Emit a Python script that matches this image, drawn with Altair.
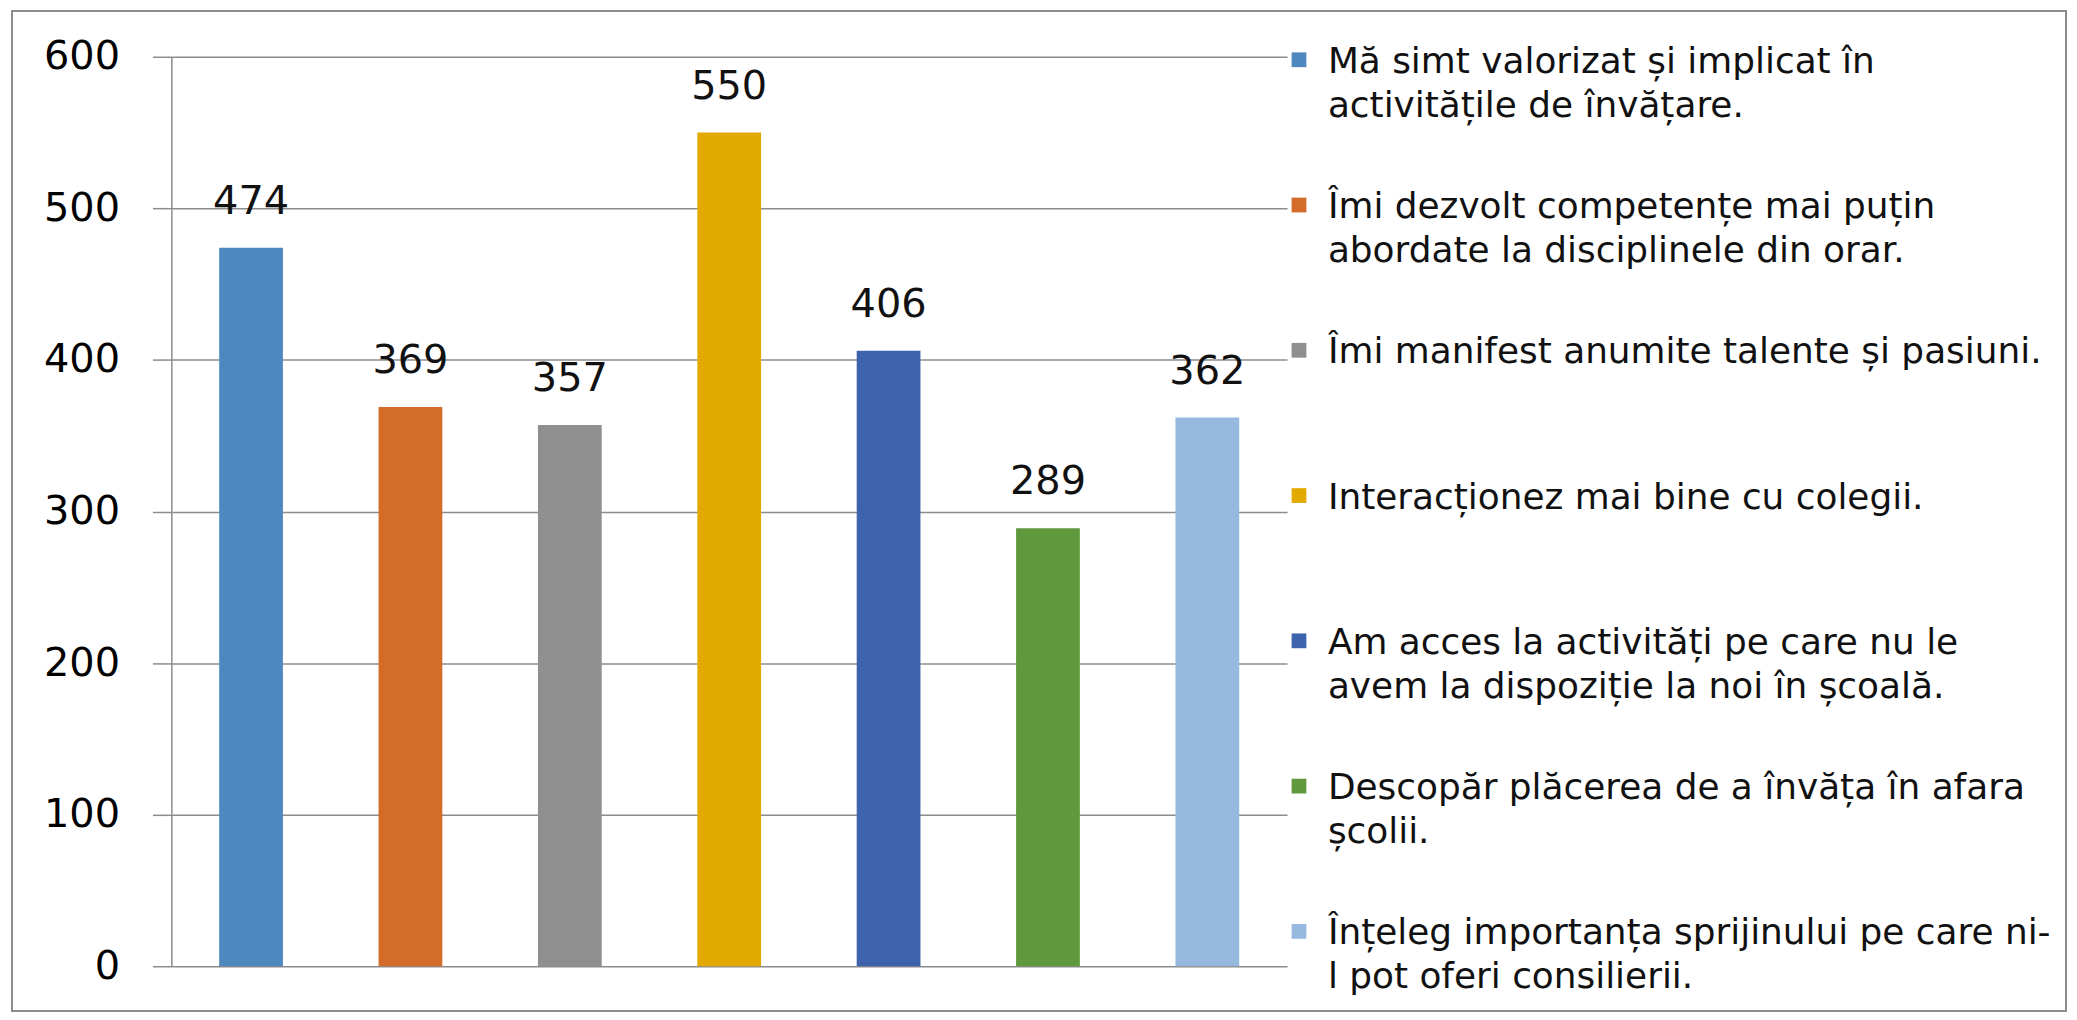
import altair as alt
import pandas as pd

categories = [
    "Mă simt valorizat și implicat în\nactivitățile de învățare.",
    "Îmi dezvolt competențe mai puțin\nabordate la disciplinele din orar.",
    "Îmi manifest anumite talente și pasiuni.",
    "Interacționez mai bine cu colegii.",
    "Am acces la activități pe care nu le\navem la dispoziție la noi în școală.",
    "Descopăr plăcerea de a învăța în afara\nșcolii.",
    "Înțeleg importanța sprijinului pe care ni-\nl pot oferi consilierii.",
]
values = [474, 369, 357, 550, 406, 289, 362]
colors = ["#4F88BE", "#D36C28", "#8F8F8F", "#E2A900", "#3D63AD", "#60993D", "#97B8DF"]
y_ticks = [0, 100, 200, 300, 400, 500, 600]

df = pd.DataFrame({"cat": categories, "val": values})
FONT = "DejaVu Sans"

color_scale = alt.Scale(domain=categories, range=colors)
no_view = alt.ViewBackground(strokeWidth=0, stroke="transparent")

x_enc = alt.X("cat:N", sort=categories, axis=None,
              scale=alt.Scale(paddingInner=0.6, paddingOuter=0.3))
y_enc = alt.Y("val:Q", scale=alt.Scale(domain=[0, 600], nice=False),
              axis=alt.Axis(values=y_ticks, title=None, grid=True, gridColor="#8C8C8C",
                            gridWidth=1.5, domainColor="#8C8C8C", domainWidth=1.5,
                            tickColor="#8C8C8C", tickSize=19, tickWidth=1.5,
                            labelFont=FONT, labelFontSize=40, labelColor="#000000",
                            labelPadding=33))

bars = alt.Chart(df).mark_bar().encode(
    x=x_enc, y=y_enc,
    color=alt.Color("cat:N", scale=color_scale, legend=None),
)
labels = alt.Chart(df).mark_text(font=FONT, fontSize=40, color="#111111",
                                 baseline="alphabetic", dy=-34).encode(
    x=alt.X("cat:N", sort=categories), y="val:Q", text="val:Q")

border = alt.Chart(pd.DataFrame({"b": [0]})).mark_rect(
    fill=None, stroke="#8C8C8C", strokeWidth=2).encode(
    x=alt.value(-160), x2=alt.value(1902), y=alt.value(-46), y2=alt.value(958))

main = alt.layer(border, bars, labels).properties(width=1120, height=913, view=no_view)

leg_df = pd.DataFrame({"cat": categories})
leg_y = alt.Y("cat:N", sort=categories, axis=None,
              scale=alt.Scale(type="point", range=[3, 878], padding=0))
leg_sym = alt.Chart(leg_df).mark_square(size=220, opacity=1).encode(
    x=alt.value(12), y=leg_y,
    color=alt.Color("cat:N", scale=color_scale, legend=None))
leg_txt = alt.Chart(leg_df).mark_text(font=FONT, fontSize=36, align="left",
                                      baseline="alphabetic", dy=13, lineBreak="\n",
                                      lineHeight=44, color="#111111").encode(
    x=alt.value(41), y=leg_y, text="cat:N")
legend = alt.layer(leg_sym, leg_txt).properties(width=770, height=913, view=no_view)

chart = alt.hconcat(main, legend, spacing=0, bounds="flush").properties(
    padding={"left": 3, "top": 0, "right": 2, "bottom": 2}
).configure_view(strokeWidth=0, stroke="transparent").configure(background="#FFFFFF")

chart.save("out.html", embed_options={"renderer": "svg", "actions": False})
